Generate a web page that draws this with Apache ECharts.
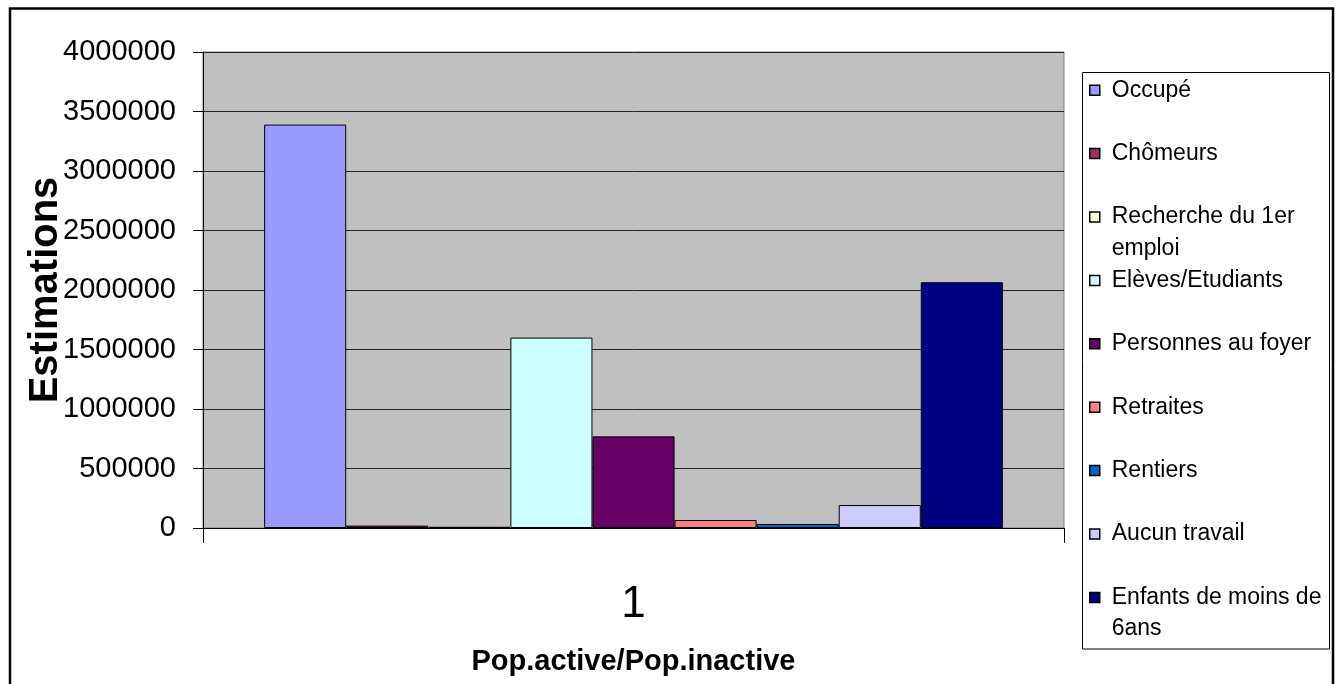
<!DOCTYPE html>
<html>
<head>
<meta charset="utf-8">
<script src="https://cdn.jsdelivr.net/npm/echarts@6/dist/echarts.min.js"></script>
<style>
html,body{margin:0;padding:0;background:#fff;}
#chart{width:1342px;height:684px;}
</style>
</head>
<body>
<div id="chart"></div>
<script>
// ---- data ----
var categories = ['1'];
var seriesNames = ['Occupé', 'Chômeurs', 'Recherche du 1er emploi', 'Elèves/Etudiants', 'Personnes au foyer', 'Retraites', 'Rentiers', 'Aucun travail', 'Enfants de moins de 6ans'];
var legendLines = ['Occupé', 'Chômeurs', 'Recherche du 1er\nemploi', 'Elèves/Etudiants', 'Personnes au foyer', 'Retraites', 'Rentiers', 'Aucun travail', 'Enfants de moins de\n6ans'];
var seriesValues = [3390000, 20000, 10000, 1600000, 770000, 67000, 34000, 193000, 2065000];
var seriesColors = ['#9999FF', '#993366', '#FFFFCC', '#CCFFFF', '#660066', '#FF8080', '#0066CC', '#CCCCFF', '#000080'];
var yTicks = { min: 0, max: 4000000, interval: 500000 };

var FONT = '"Liberation Sans", Arial, sans-serif';
var chart = echarts.init(document.getElementById('chart'));

var series = seriesNames.map(function (n, i) {
  return {
    name: n,
    type: 'bar',
    data: [seriesValues[i]],
    barGap: '0%',
    barCategoryGap: '14.2%',
    itemStyle: { color: seriesColors[i], borderColor: '#000', borderWidth: 1 },
    emphasis: { disabled: true }
  };
});

var option = {
  animation: false,
  textStyle: { fontFamily: FONT },
  grid: {
    left: 203, top: 52, width: 861, height: 476,
    show: true, backgroundColor: '#C0C0C0', borderColor: '#808080', borderWidth: 1
  },
  legend: {
    orient: 'vertical',
    left: 1089, top: 42.8,
    padding: 0,
    itemGap: -31.4,
    itemWidth: 10, itemHeight: 10,
    icon: 'rect',
    selectedMode: false,
    data: seriesNames.map(function (n, i) {
      return { name: n, itemStyle: { borderColor: '#000', borderWidth: 1.5 } };
    }),
    formatter: function (name) {
      var t = legendLines[seriesNames.indexOf(name)];
      return '\n' + t + (t.indexOf('\n') < 0 ? '\n ' : '');
    },
    textStyle: { fontFamily: FONT, fontSize: 23, color: '#000', lineHeight: 31.6, padding: [0, 0, 0, 7] }
  },
  xAxis: {
    type: 'category',
    data: categories,
    name: 'Pop.active/Pop.inactive',
    nameLocation: 'middle',
    nameGap: 119,
    nameTextStyle: { fontFamily: FONT, fontSize: 29, fontWeight: 'bold', color: '#000' },
    axisLine: { lineStyle: { color: '#000', width: 1 } },
    axisTick: { show: true, length: 15, alignWithLabel: false, interval: 0, lineStyle: { color: '#000' } },
    axisLabel: { fontFamily: FONT, fontSize: 44, color: '#000', margin: 55, lineHeight: 44 },
    splitLine: { show: false }
  },
  yAxis: {
    type: 'value',
    min: yTicks.min, max: yTicks.max, interval: yTicks.interval,
    name: 'Estimations',
    nameLocation: 'middle',
    nameGap: 137,
    nameMoveOverlap: false,
    nameTextStyle: { fontFamily: FONT, fontSize: 40, fontWeight: 'bold', color: '#000' },
    axisLine: { show: true, lineStyle: { color: '#000', width: 1 } },
    axisTick: { show: true, length: 10, lineStyle: { color: '#000' } },
    axisLabel: { fontFamily: FONT, fontSize: 29, color: '#000', margin: 27, formatter: function (v) { return String(v); } },
    splitLine: { show: true, lineStyle: { color: '#222', width: 1 } }
  },
  graphic: [
    { type: 'rect', shape: { x: 10, y: 8.5, width: 1323, height: 700 }, style: { fill: 'none', stroke: '#000', lineWidth: 2.5 }, silent: true, z: 100 },
    { type: 'rect', shape: { x: 1082.5, y: 72.5, width: 247, height: 576.5 }, style: { fill: '#fff', stroke: '#000', lineWidth: 1 }, silent: true, z: -1 }
  ],
  series: series
};
chart.setOption(option);
</script>
</body>
</html>
